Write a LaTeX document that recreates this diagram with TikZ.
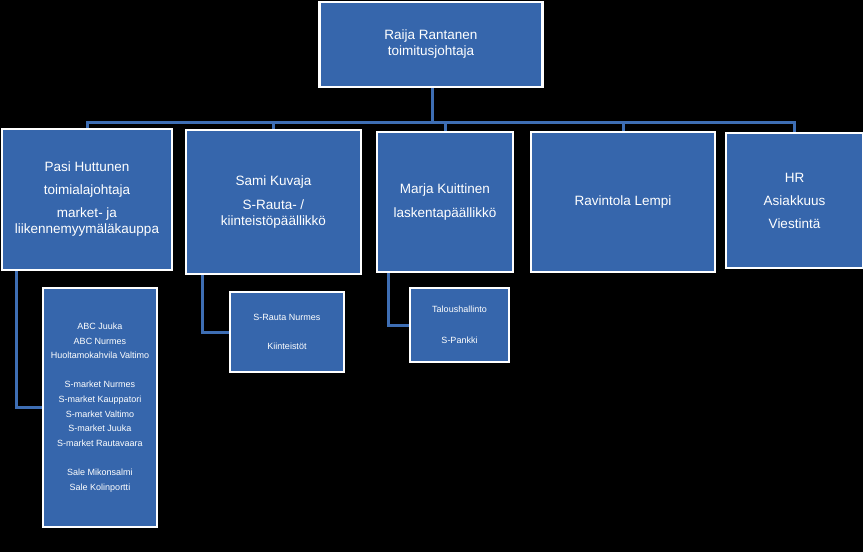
\documentclass[tikz,border=0pt]{standalone}
\usepackage{fontspec}
\setmainfont{Liberation Sans}
\usetikzlibrary{backgrounds}
\definecolor{boxblue}{RGB}{54,102,172}
\definecolor{linkblue}{RGB}{62,110,180}
\begin{document}
\begin{tikzpicture}[x=1pt,y=-1pt,
  box/.style={draw=white, line width=2.2pt, fill=boxblue, text=white, align=center, inner sep=0pt,
    font=\fontsize{13.5}{16}\selectfont},
  subbox/.style={box, font=\fontsize{9}{14.6}\selectfont},
  conn/.style={draw=linkblue, line width=3pt}]
\useasboundingbox (0,0) rectangle (863,552);
\node[box, minimum width=223pt, minimum height=85pt] (top) at (431,44.5) {Raija Rantanen\\toimitusjohtaja};
\node[box, minimum width=170pt, minimum height=141pt] (pasi) at (87,199.5)
  {Pasi Huttunen\\[7pt]toimialajohtaja\\[7pt]market- ja\\liikennemyymäläkauppa};
\node[box, minimum width=175pt, minimum height=144pt] (sami) at (273.5,202)
  {Sami Kuvaja\\[8pt]S-Rauta- /\\kiinteistöpäällikkö};
\node[box, minimum width=136pt, minimum height=140pt] (marja) at (445,202)
  {Marja Kuittinen\\[8pt]laskentapäällikkö};
\node[box, minimum width=184pt, minimum height=140pt] (rav) at (623,202) {Ravintola Lempi};
\node[box, minimum width=137pt, minimum height=135pt] (hr) at (794.5,200.5)
  {HR\\[7pt]Asiakkuus\\[7pt]Viestintä};
\node[subbox, minimum width=114pt, minimum height=239pt] (psub) at (100,407.5)
  {ABC Juuka\\ABC Nurmes\\Huoltamokahvila Valtimo\\[14.6pt]S-market Nurmes\\S-market Kauppatori\\S-market Valtimo\\S-market Juuka\\S-market Rautavaara\\[14.6pt]Sale Mikonsalmi\\Sale Kolinportti};
\node[subbox, minimum width=114pt, minimum height=80pt] (ssub) at (287,332)
  {S-Rauta Nurmes\\[14.6pt]Kiinteistöt};
\node[subbox, minimum width=99pt, minimum height=74pt] (msub) at (459.5,325)
  {Taloushallinto\\[16pt]S-Pankki};
\coordinate (bus) at (432,122);
\begin{scope}[on background layer]
\fill[black] (0,0) rectangle (863,552);
\draw[conn] (bus |- top.south) -- (bus);
\draw[conn] (pasi.north) |- (bus);
\draw[conn] (sami.north) |- (bus);
\draw[conn] (marja.north) |- (bus);
\draw[conn] (rav.north) |- (bus);
\draw[conn] (hr.north) |- (bus);
\draw[conn] (psub.west) -| ([xshift=16pt]pasi.south west);
\draw[conn] (ssub.west) -| ([xshift=18pt]sami.south west);
\draw[conn] (msub.west) -| ([xshift=13pt]marja.south west);
\end{scope}
\end{tikzpicture}
\end{document}
